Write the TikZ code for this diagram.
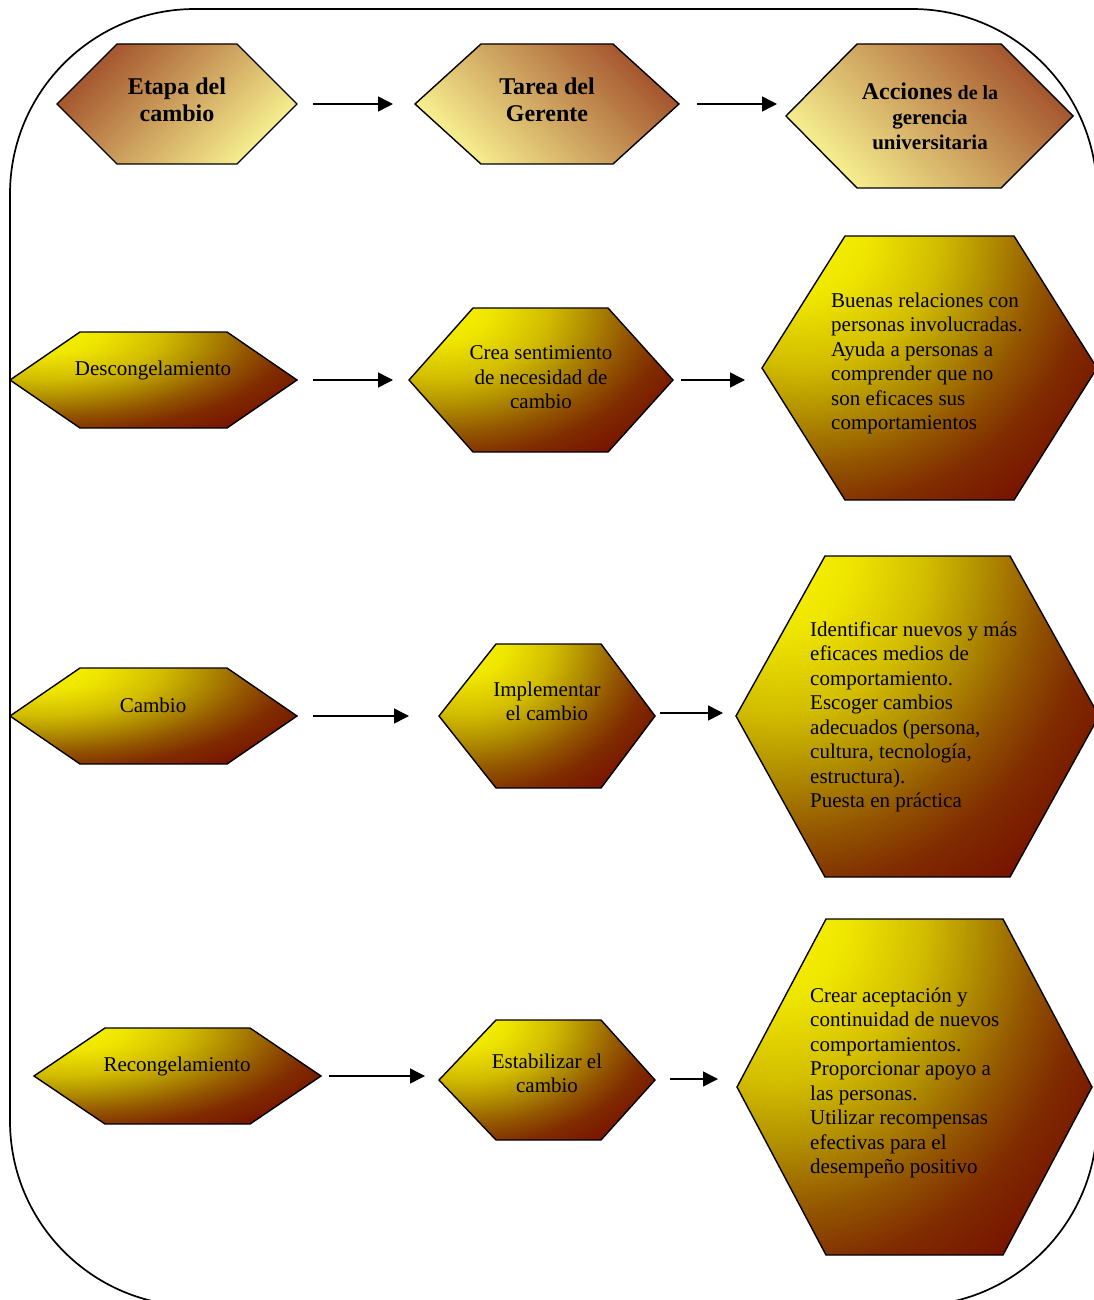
\documentclass[tikz,border=0pt]{standalone}
\usepackage{fontspec}
\setmainfont{Liberation Serif}
\usetikzlibrary{arrows.meta}
\definecolor{fy0}{HTML}{F8F400}
\definecolor{fy1}{HTML}{EFE600}
\definecolor{fy2}{HTML}{D2BC00}
\definecolor{fy3}{HTML}{B29000}
\definecolor{fy4}{HTML}{935600}
\definecolor{fy5}{HTML}{802C00}
\definecolor{fy6}{HTML}{781400}
\definecolor{hb}{HTML}{A3522C}
\definecolor{hm}{HTML}{CFAA6A}
\definecolor{hp}{HTML}{F8F291}
\pgfdeclareradialshading{fire}{\pgfpointorigin}{color(0bp)=(fy0); color(4bp)=(fy1); color(8.5bp)=(fy2); color(11.5bp)=(fy3); color(15bp)=(fy4); color(18bp)=(fy5); color(21.5bp)=(fy6); color(50bp)=(fy6)}
\newcommand\hexpth[7]{(#1,#6) -- (#2,#5) -- (#3,#5) -- (#4,#6) -- (#3,#7) -- (#2,#7) -- cycle}
\newcommand\firehex[7]{%
  \begin{scope}
    \clip \hexpth{#1}{#2}{#3}{#4}{#5}{#6}{#7};
    \shade[shading=fire] ({#1+0.12*(#4-#1)},#5) ellipse [x radius={1.2*(#4-#1)*1pt}, y radius={1.45*(#7-#5)*1pt}];
  \end{scope}
  \draw[hexline] \hexpth{#1}{#2}{#3}{#4}{#5}{#6}{#7};}
\newcommand\hdrhex[8]{%
  \shadedraw[hexline, top color=hb, middle color=hm, bottom color=hp, shading angle=#8] \hexpth{#1}{#2}{#3}{#4}{#5}{#6}{#7};}
\begin{document}
\begin{tikzpicture}[x=1pt, y=-1pt,
  hexline/.style={draw=black, line width=1.4pt, line join=miter},
  arr/.style={line width=1.5pt, -{Triangle[length=15pt,width=15pt]}},
  hdrtxt/.style={inner sep=0pt, align=center, font=\bfseries\fontsize{24}{27}\selectfont},
  bodytxt/.style={inner sep=0pt, align=center, font=\fontsize{21}{24.5}\selectfont},
  bigtxt/.style={inner sep=0pt, anchor=west, align=left, font=\fontsize{21}{24.5}\selectfont}]
\useasboundingbox (0,0) rectangle (1094,1300);
\clip (0,0) rectangle (1094,1300);
\draw[line width=1.7pt, rounded corners=185pt] (10,9) rectangle (1097,1306);

% header
\hdrhex{57}{117}{237}{297}{44}{104}{164}{45}
\hdrhex{415}{481}{613}{679}{44}{104}{164}{-45}
\hdrhex{786}{857}{1001}{1073}{44}{116}{188}{-45}
\node[hdrtxt] (h1) at (177,100) {Etapa del\\cambio};
\node[hdrtxt] (h2) at (547,100) {Tarea del\\Gerente};
\node[inner sep=0pt, align=center, font=\bfseries\fontsize{21}{25}\selectfont] (h3) at (930,116)
  {{\fontsize{24}{25}\selectfont Acciones} {\fontsize{20}{25}\selectfont de la}\\gerencia\\universitaria};

% row 1
\firehex{10}{80}{227}{297}{332}{380}{428}
\firehex{409}{473}{608}{673}{308}{380}{452}
\firehex{762}{845}{1014}{1097}{236}{368}{500}
\node[bodytxt] (r1a) at (153,370) {Descongelamiento};
\node[bodytxt] (r1b) at (541,377.5) {Crea sentimiento\\de necesidad de\\cambio};
\node[bigtxt] (r1c) at (831,363.5) {Buenas relaciones con\\personas involucradas.\\Ayuda a personas a\\comprender que no\\son eficaces sus\\comportamientos};

% row 2
\firehex{10}{80}{227}{297}{668}{716}{764}
\firehex{439}{496}{601}{655}{644}{716}{788}
\firehex{736}{825}{1010}{1099}{556}{716}{877}
\node[bodytxt] (r2a) at (153,705.5) {Cambio};
\node[bodytxt] (r2b) at (547,701.5) {Implementar\\el cambio};
\node[bigtxt] (r2c) at (810,717) {Identificar nuevos y más\\eficaces medios de\\comportamiento.\\Escoger cambios\\adecuados (persona,\\cultura, tecnología,\\estructura).\\Puesta en práctica};

% row 3
\firehex{34}{105}{250}{321}{1028}{1076}{1124}
\firehex{439}{496}{601}{655}{1020}{1080}{1140}
\firehex{737}{826}{1003}{1092}{919}{1087}{1255}
\node[bodytxt] (r3a) at (177,1066) {Recongelamiento};
\node[bodytxt] (r3b) at (547,1073.5) {Estabilizar el\\cambio};
\node[bigtxt] (r3c) at (810,1083) {Crear aceptación y\\continuidad de nuevos\\comportamientos.\\Proporcionar apoyo a\\las personas.\\Utilizar recompensas\\efectivas para el\\desempeño positivo};

% arrows
\coordinate (a1s) at (313,104); \coordinate (a1e) at (393,104);
\coordinate (a2s) at (697,104); \coordinate (a2e) at (777,104);
\coordinate (a3s) at (313,380); \coordinate (a3e) at (393,380);
\coordinate (a4s) at (681,380); \coordinate (a4e) at (745,380);
\coordinate (a5s) at (313,716); \coordinate (a5e) at (409,716);
\coordinate (a6s) at (660,713); \coordinate (a6e) at (723,713);
\coordinate (a7s) at (329,1076); \coordinate (a7e) at (425,1076);
\coordinate (a8s) at (670,1079); \coordinate (a8e) at (718,1079);
\foreach \i in {1,...,8} {\draw[arr] (a\i s) -- (a\i e);}
\end{tikzpicture}
\end{document}
